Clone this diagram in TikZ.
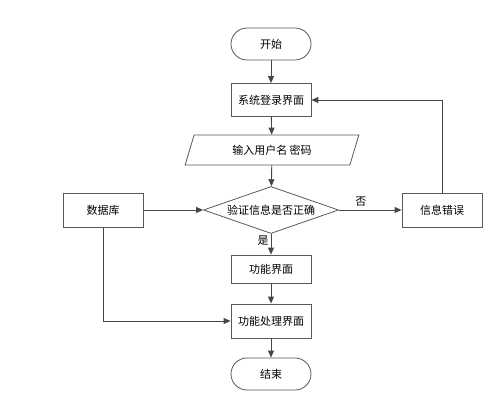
\documentclass[tikz,border=0pt]{standalone}
\usepackage{fontspec}
\setmainfont{Noto Sans CJK SC}
\usetikzlibrary{arrows.meta,shapes.geometric}

\begin{document}
\begin{tikzpicture}[x=1pt, y=-1pt,
    font=\fontsize{11}{13}\selectfont,
    box/.style={draw=black!65, fill=white, line width=0.8pt, minimum width=80pt, minimum height=34pt, inner sep=0pt},
    term/.style={box, rounded corners=16pt, minimum height=32pt},
    io/.style={trapezium, trapezium left angle=66, trapezium right angle=114, trapezium stretches=true,
      draw=black!65, line width=0.8pt, minimum width=175pt, minimum height=30pt, inner sep=0pt},
    check/.style={diamond, aspect=2.9, draw=black!65, line width=0.8pt, minimum width=135pt, minimum height=47pt, inner sep=0pt},
    flow/.style={draw=black!72, line width=0.9pt, -{Triangle[length=7pt,width=6pt]}}]
  \useasboundingbox (0,0) rectangle (496,406);

  \node[term] (start) at (271,44) {开始};
  \node[box, minimum height=33pt] (login) at (271,100) {系统登录界面};
  \node[io] (input) at (272,150) {输入用户名 密码};
  \node[check] (verify) at (271,210) {验证信息是否正确};
  \node[box] (db) at (103,210) {数据库};
  \node[box] (err) at (442,210) {信息错误};
  \node[box, minimum height=28pt] (func) at (271,269) {功能界面};
  \node[box] (proc) at (271,321) {功能处理界面};
  \node[term] (end) at (271,374) {结束};

  \draw[flow] (start) -- (login);
  \draw[flow] (login) -- (input);
  \draw[flow] (input) -- (verify);
  \draw[flow] (verify) -- node[pos=0.35, above] (no) {否} (err);
  \draw[flow] (verify) -- node[pos=0.3, left, inner sep=2pt] (yes) {是} (func);
  \draw[flow] (func) -- (proc);
  \draw[flow] (proc) -- (end);
  \draw[flow] (db) -- (verify);
  \draw[flow] (db) |- (proc);
  \draw[flow] (err) |- (login);
\end{tikzpicture}
\end{document}
